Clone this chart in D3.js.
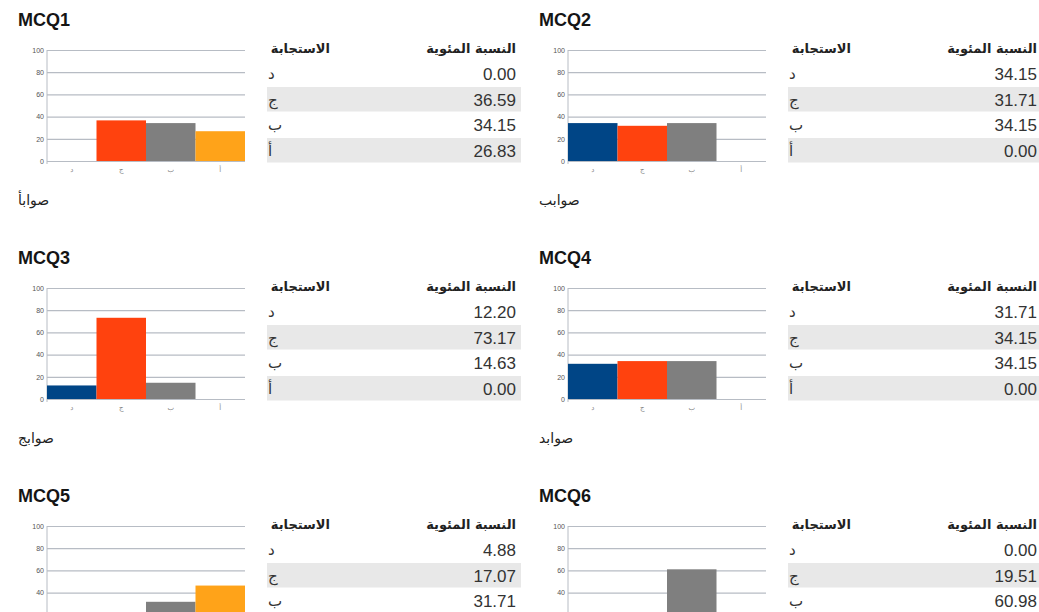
<!DOCTYPE html>
<html>
<head>
<meta charset="utf-8">
<script src="https://cdn.jsdelivr.net/npm/d3@7"></script>
<style>
  body { margin: 0; background: #fff; }
  svg { display: block; }
  .title { font-family: 'Liberation Sans', Arial, sans-serif; font-weight: bold; font-size: 18px; fill: #151515; }
  .tick text { font-family: 'Liberation Sans', Arial, sans-serif; font-size: 7px; fill: #555; }
  .xaxis .tick text { font-family: 'DejaVu Sans', sans-serif; font-size: 7px; fill: #888; }
  .grid .tick line { stroke: #b7bcc4; stroke-width: 1.2; }
  .head { font-family: 'DejaVu Sans', sans-serif; font-weight: bold; font-size: 13px; fill: #222; }
  .resp { font-family: 'DejaVu Sans', sans-serif; font-size: 15px; fill: #333; }
  .num { font-family: 'Liberation Sans', Arial, sans-serif; font-size: 17px; fill: #333; }
  .correct { font-family: 'DejaVu Sans', sans-serif; font-size: 14px; fill: #222; }
</style>
</head>
<body>
<div id="chart"></div>
<script>
// Data
const questions = ['MCQ1', 'MCQ2', 'MCQ3', 'MCQ4', 'MCQ5', 'MCQ6'];
const responses = ['د', 'ج', 'ب', 'أ'];
const percents = [
  [0.00, 36.59, 34.15, 26.83],
  [34.15, 31.71, 34.15, 0.00],
  [12.20, 73.17, 14.63, 0.00],
  [31.71, 34.15, 34.15, 0.00],
  [4.88, 17.07, 31.71, 46.34],
  [0.00, 19.51, 60.98, 19.51],
];
const correctLabels = ['صوابأ', 'صوابب', 'صوابج', 'صوابد', 'صوابأ', 'صوابب'];
const yTicks = [0, 20, 40, 60, 80, 100];
const headResponse = 'الاستجابة';
const headPercent = 'النسبة المئوية';
const barColors = ['#004586', '#ff420e', '#7f7f7f', '#ffa319'];

const W = 1039;
const H = 612;

// Panel placement: two columns, three rows
const colX = [0, 521];
const rowY = [0, 238, 476];

// Inner chart box, relative to each panel
const plot = { left: 47, right: 245, top: 50, bottom: 161 };
const table = { left: 267, right: 521, numRight: 516, respX: 268, headY: 53, rowTop: 61.5, rowH: 25.5 };

const svg = d3.select('#chart').append('svg')
  .attr('width', W)
  .attr('height', H);

const x = d3.scaleBand()
  .domain(responses)
  .range([plot.left, plot.right])
  .padding(0);

const y = d3.scaleLinear()
  .domain([0, 100])
  .range([plot.bottom, plot.top]);

const color = d3.scaleOrdinal()
  .domain(responses)
  .range(barColors);

questions.forEach((q, qi) => {
  const g = svg.append('g')
    .attr('transform', `translate(${colX[qi % 2]},${rowY[Math.floor(qi / 2)]})`);
  const rows = responses.map((r, i) => ({ r, v: percents[qi][i] }));

  g.append('text')
    .attr('class', 'title')
    .attr('x', 18)
    .attr('y', 26)
    .text(q);

  // Gridlines and y tick labels
  const grid = g.append('g')
    .attr('class', 'grid')
    .attr('transform', `translate(${plot.left},0)`)
    .call(d3.axisLeft(y).tickValues(yTicks).tickSize(-(plot.right - plot.left)).tickPadding(3));
  grid.select('.domain').remove();

  // Vertical axis line
  g.append('line')
    .attr('x1', plot.left).attr('x2', plot.left)
    .attr('y1', plot.top).attr('y2', plot.bottom + 3)
    .attr('stroke', '#b7bcc4');

  // Bars
  g.selectAll('.bar')
    .data(rows)
    .join('rect')
    .attr('class', 'bar')
    .attr('x', (d) => x(d.r))
    .attr('width', x.bandwidth())
    .attr('y', (d) => y(d.v))
    .attr('height', (d) => y(0) - y(d.v))
    .attr('fill', (d) => color(d.r));

  // Category labels under the bars
  const xa = g.append('g')
    .attr('class', 'xaxis')
    .attr('transform', `translate(0,${plot.bottom})`)
    .call(d3.axisBottom(x).tickSize(0).tickPadding(6));
  xa.select('.domain').remove();

  g.append('text')
    .attr('class', 'correct')
    .attr('x', 18)
    .attr('y', 205)
    .text(correctLabels[qi]);

  // Table
  g.append('text')
    .attr('class', 'head')
    .attr('x', 330)
    .attr('y', table.headY)
    .attr('text-anchor', 'end')
    .text(headResponse);
  g.append('text')
    .attr('class', 'head')
    .attr('x', table.numRight)
    .attr('y', table.headY)
    .attr('text-anchor', 'end')
    .text(headPercent);

  const row = g.selectAll('.row')
    .data(rows)
    .join('g')
    .attr('class', 'row')
    .attr('transform', (d, i) => `translate(0,${table.rowTop + i * table.rowH})`);

  row.filter((d, i) => i % 2 === 1)
    .append('rect')
    .attr('x', table.left)
    .attr('width', table.right - table.left)
    .attr('height', table.rowH - 1)
    .attr('fill', '#e8e8e8');

  row.append('text')
    .attr('class', 'resp')
    .attr('x', table.respX)
    .attr('y', table.rowH / 2 + 5)
    .text((d) => d.r);

  row.append('text')
    .attr('class', 'num')
    .attr('x', table.numRight)
    .attr('y', table.rowH / 2 + 6)
    .attr('text-anchor', 'end')
    .text((d) => d.v.toFixed(2));
});
</script>
</body>
</html>
